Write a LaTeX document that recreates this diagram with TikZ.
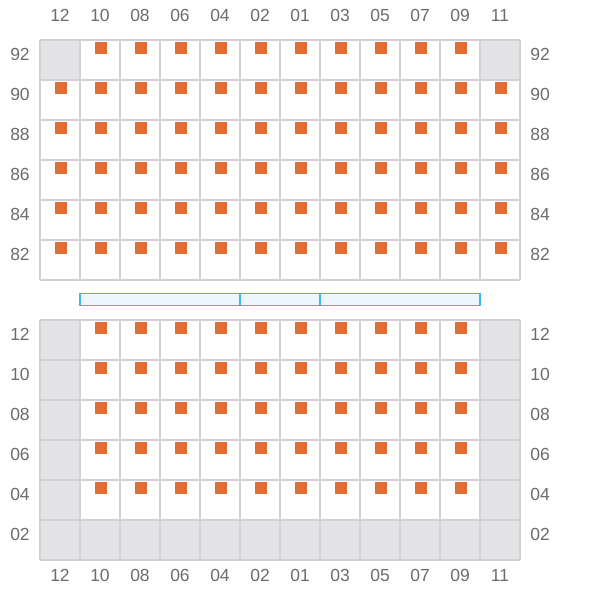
\documentclass[tikz,border=0pt]{standalone}
\usepackage{fontspec}
\setmainfont{Liberation Sans}
\definecolor{gridc}{HTML}{D2D2D6}
\definecolor{grayc}{HTML}{E4E4E6}
\definecolor{orc}{HTML}{E36C35}
\definecolor{txtc}{HTML}{6B6B70}
\definecolor{barb}{HTML}{3BB8F0}
\definecolor{barf}{HTML}{EEF6FF}
\tikzset{
  lbl/.style={text=txtc, font=\fontsize{17.5}{17.5}\selectfont, inner sep=0pt, anchor=center},
  gline/.style={draw=gridc, line width=1.5pt},
  gcell/.style={fill=grayc},
  sq/.style={fill=orc},
  bar/.style={draw=barb, fill=barf, line width=1.5pt}
}
\begin{document}
\begin{tikzpicture}[x=1pt,y=-1pt]
\useasboundingbox (0,0) rectangle (600,600);
% column labels
\foreach \c [count=\i from 0] in {12,10,08,06,04,02,01,03,05,07,09,11}{
  \node[lbl] (ct\i) at ({60+40*\i},15) {\c};
  \node[lbl] (cb\i) at ({60+40*\i},575) {\c};
}
% row labels
\foreach \r [count=\j from 0] in {92,90,88,86,84,82}{
  \node[lbl] (rl\j) at (20,{54+40*\j}) {\r};
  \node[lbl] (rr\j) at (540,{54+40*\j}) {\r};
}
\foreach \r [count=\j from 0] in {12,10,08,06,04,02}{
  \node[lbl] (bl\j) at (20,{334+40*\j}) {\r};
  \node[lbl] (br\j) at (540,{334+40*\j}) {\r};
}
% top grid gray cells
\fill[gcell] (40,40) rectangle (80,80);
\fill[gcell] (480,40) rectangle (520,80);
% bottom grid gray cells
\fill[gcell] (40,320) rectangle (80,560);
\fill[gcell] (480,320) rectangle (520,560);
\fill[gcell] (40,520) rectangle (520,560);
% grid lines
\foreach \yy in {40,320}{
  \foreach \i in {0,...,12}{
    \draw[gline] ({40+40*\i},\yy) -- ({40+40*\i},\yy+240);
  }
  \foreach \j in {0,...,6}{
    \draw[gline] (40,{\yy+40*\j}) -- (520,{\yy+40*\j});
  }
}
% top squares
\foreach \i in {1,...,10}{
  \fill[sq] ({95+40*(\i-1)},42) rectangle +(12,12);
}
\foreach \j in {1,...,5}{
  \foreach \i in {0,...,11}{
    \fill[sq] ({55+40*\i},{42+40*\j}) rectangle +(12,12);
  }
}
% bottom squares
\foreach \j in {0,...,4}{
  \foreach \i in {1,...,10}{
    \fill[sq] ({55+40*\i},{322+40*\j}) rectangle +(12,12);
  }
}
% blue bar
\draw[bar] (80,293.5) rectangle (240,305.5);
\draw[bar] (240,293.5) rectangle (320,305.5);
\draw[bar] (320,293.5) rectangle (480,305.5);
\end{tikzpicture}
\end{document}
